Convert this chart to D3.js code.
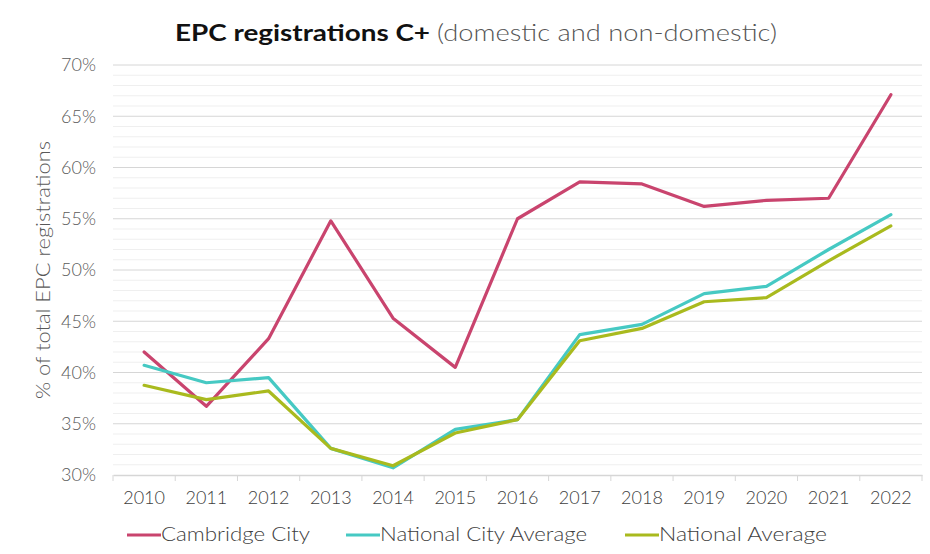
<!DOCTYPE html>
<html>
<head>
<meta charset="utf-8">
<script src="https://cdn.jsdelivr.net/npm/d3@7"></script>
<style>
  html, body { margin: 0; padding: 0; background: #fff; }
  svg { display: block; }
  text { font-family: Lato, "Open Sans", sans-serif; }
</style>
</head>
<body>
<svg id="chart" width="930" height="554"></svg>
<script>
const years = ["2010","2011","2012","2013","2014","2015","2016","2017","2018","2019","2020","2021","2022"];
const cambridgeCity = [42.0, 36.7, 43.3, 54.8, 45.3, 40.5, 55.0, 58.6, 58.4, 56.2, 56.8, 57.0, 67.1];
const nationalCityAverage = [40.7, 39.0, 39.5, 32.6, 30.7, 34.45, 35.4, 43.7, 44.7, 47.7, 48.4, 52.0, 55.4];
const nationalAverage = [38.75, 37.35, 38.2, 32.6, 30.9, 34.1, 35.4, 43.1, 44.3, 46.9, 47.3, 50.9, 54.3];
const seriesNames = ["Cambridge City", "National City Average", "National Average"];
const seriesColors = ["#C9446E", "#46C9C3", "#A9BA1E"];
const yTicks = [30, 35, 40, 45, 50, 55, 60, 65, 70];

const svg = d3.select("#chart");
const mLeft = 113, mRight = 922, mTop = 65, mBottom = 475;

const x = d3.scaleBand().domain(years).range([mLeft, mRight]);
const y = d3.scaleLinear().domain([30, 70]).range([mBottom, mTop]);

// minor gridlines
const minor = d3.range(31, 70).filter(v => v % 5 !== 0);
svg.append("g").selectAll("line").data(minor).join("line")
  .attr("x1", mLeft).attr("x2", mRight)
  .attr("y1", d => y(d)).attr("y2", d => y(d))
  .attr("stroke", "#efefef").attr("stroke-width", 1);
// major gridlines
svg.append("g").selectAll("line").data(yTicks.filter(v => v > 30)).join("line")
  .attr("x1", mLeft).attr("x2", mRight)
  .attr("y1", d => y(d)).attr("y2", d => y(d))
  .attr("stroke", "#d6d6d6").attr("stroke-width", 1);

// y axis labels
const yAxis = d3.axisLeft(y).tickValues(yTicks).tickFormat(d => d + "%").tickSize(0).tickPadding(17);
const gy = svg.append("g").attr("transform", `translate(${mLeft},0)`).call(yAxis);
gy.select(".domain").remove();
gy.selectAll("text").attr("font-size", 18).attr("font-weight", 300).attr("fill", "#595959")
  .attr("font-family", "Lato, sans-serif");

// x axis
const xAxis = d3.axisBottom(x).tickSizeOuter(0).tickSize(0).tickPadding(16);
const gx = svg.append("g").attr("transform", `translate(0,${mBottom})`).call(xAxis);
gx.select(".domain").attr("stroke", "#d6d6d6").attr("stroke-width", 1.5);
gx.selectAll("text").attr("font-size", 18).attr("font-weight", 300).attr("fill", "#404040")
  .attr("font-family", "Lato, sans-serif");
// category separators
const bounds = years.map(d => x(d)).concat([x(years[years.length - 1]) + x.bandwidth()]);
svg.append("g").selectAll("line").data(bounds).join("line")
  .attr("x1", d => d).attr("x2", d => d)
  .attr("y1", mBottom).attr("y2", mBottom + 6)
  .attr("stroke", "#d6d6d6").attr("stroke-width", 1);

// lines
const allSeries = [cambridgeCity, nationalCityAverage, nationalAverage];
const line = d3.line().x((d, i) => x(years[i]) + x.bandwidth() / 2).y(d => y(d));
allSeries.forEach((s, k) => {
  svg.append("path").datum(s)
    .attr("d", line)
    .attr("fill", "none")
    .attr("stroke", seriesColors[k])
    .attr("stroke-width", 3.2)
    .attr("stroke-linejoin", "round")
    .attr("stroke-linecap", "round");
});

// title
svg.append("text").attr("x", 175).attr("y", 41)
  .attr("font-size", 23).attr("font-weight", 700).attr("fill", "#111")
  .attr("textLength", 255).attr("lengthAdjust", "spacingAndGlyphs")
  .text("EPC registrations C+");
svg.append("text").attr("x", 437).attr("y", 41)
  .attr("font-size", 23).attr("font-weight", 300).attr("fill", "#555")
  .attr("textLength", 340).attr("lengthAdjust", "spacingAndGlyphs")
  .text("(domestic and non-domestic)");

// y axis title
svg.append("text")
  .attr("transform", `translate(50,270) rotate(-90)`)
  .attr("text-anchor", "middle")
  .attr("font-size", 19).attr("font-weight", 300).attr("fill", "#595959")
  .attr("textLength", 258).attr("lengthAdjust", "spacingAndGlyphs")
  .text("% of total EPC registrations");

// legend
const legendX = [127, 346, 625];
const legendW = [149, 207, 168];
const lg = svg.append("g");
seriesNames.forEach((name, k) => {
  lg.append("line")
    .attr("x1", legendX[k]).attr("x2", legendX[k] + 34)
    .attr("y1", 535).attr("y2", 535)
    .attr("stroke", seriesColors[k]).attr("stroke-width", 3.2);
  lg.append("text")
    .attr("x", legendX[k] + 34).attr("y", 541)
    .attr("font-size", 19).attr("font-weight", 300).attr("fill", "#404040")
    .attr("textLength", legendW[k]).attr("lengthAdjust", "spacingAndGlyphs")
    .text(name);
});
</script>
</body>
</html>
